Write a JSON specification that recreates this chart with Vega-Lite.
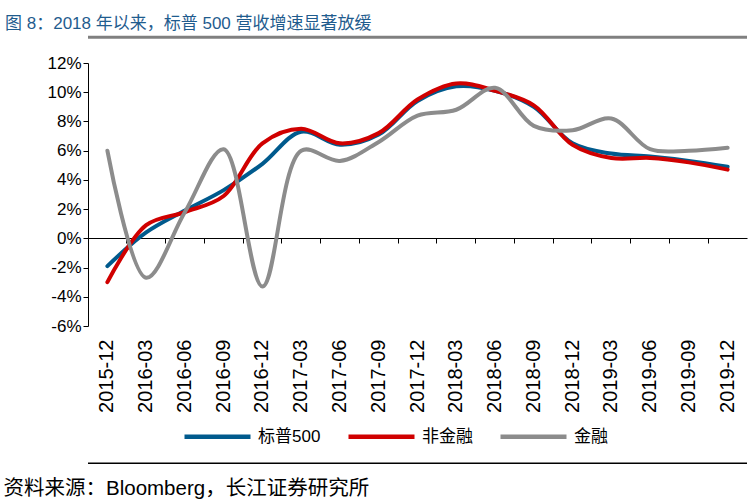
{
  "$schema": "https://vega.github.io/schema/vega-lite/v6.json",
  "width": 659,
  "height": 263,
  "autosize": {"type": "none"},
  "padding": {"left": 88, "top": 63, "right": 9, "bottom": 176},
  "background": "white",
  "config": {"view": {"stroke": null}},
  "title": {
    "text": "图 8：2018 年以来，标普 500 营收增速显著放缓",
    "anchor": "start",
    "frame": "group",
    "dx": -83,
    "dy": 23,
    "offset": 9,
    "baseline": "bottom",
    "fontSize": 17,
    "fontWeight": "normal",
    "font": "Liberation Sans, Noto Sans CJK SC",
    "color": "#1F5C8E"
  },
  "data": {
    "values": [
      {"date": "2015-12", "series": "标普500", "value": -1.9},
      {"date": "2016-03", "series": "标普500", "value": 0.4},
      {"date": "2016-06", "series": "标普500", "value": 1.9},
      {"date": "2016-09", "series": "标普500", "value": 3.3},
      {"date": "2016-12", "series": "标普500", "value": 5.1},
      {"date": "2017-03", "series": "标普500", "value": 7.3},
      {"date": "2017-06", "series": "标普500", "value": 6.4},
      {"date": "2017-09", "series": "标普500", "value": 7.1},
      {"date": "2017-12", "series": "标普500", "value": 9.4},
      {"date": "2018-03", "series": "标普500", "value": 10.4},
      {"date": "2018-06", "series": "标普500", "value": 10.1},
      {"date": "2018-09", "series": "标普500", "value": 9.0},
      {"date": "2018-12", "series": "标普500", "value": 6.5},
      {"date": "2019-03", "series": "标普500", "value": 5.8},
      {"date": "2019-06", "series": "标普500", "value": 5.6},
      {"date": "2019-09", "series": "标普500", "value": 5.3},
      {"date": "2019-12", "series": "标普500", "value": 4.9},
      {"date": "2015-12", "series": "非金融", "value": -3.0},
      {"date": "2016-03", "series": "非金融", "value": 0.9},
      {"date": "2016-06", "series": "非金融", "value": 1.8},
      {"date": "2016-09", "series": "非金融", "value": 2.9},
      {"date": "2016-12", "series": "非金融", "value": 6.5},
      {"date": "2017-03", "series": "非金融", "value": 7.5},
      {"date": "2017-06", "series": "非金融", "value": 6.5},
      {"date": "2017-09", "series": "非金融", "value": 7.2},
      {"date": "2017-12", "series": "非金融", "value": 9.5},
      {"date": "2018-03", "series": "非金融", "value": 10.6},
      {"date": "2018-06", "series": "非金融", "value": 10.1},
      {"date": "2018-09", "series": "非金融", "value": 9.1},
      {"date": "2018-12", "series": "非金融", "value": 6.4},
      {"date": "2019-03", "series": "非金融", "value": 5.5},
      {"date": "2019-06", "series": "非金融", "value": 5.5},
      {"date": "2019-09", "series": "非金融", "value": 5.2},
      {"date": "2019-12", "series": "非金融", "value": 4.7},
      {"date": "2015-12", "series": "金融", "value": 6.0},
      {"date": "2016-03", "series": "金融", "value": -2.7},
      {"date": "2016-06", "series": "金融", "value": 1.8},
      {"date": "2016-09", "series": "金融", "value": 6.1},
      {"date": "2016-12", "series": "金融", "value": -3.3},
      {"date": "2017-03", "series": "金融", "value": 6.0},
      {"date": "2017-06", "series": "金融", "value": 5.3},
      {"date": "2017-09", "series": "金融", "value": 6.6},
      {"date": "2017-12", "series": "金融", "value": 8.4},
      {"date": "2018-03", "series": "金融", "value": 8.8},
      {"date": "2018-06", "series": "金融", "value": 10.3},
      {"date": "2018-09", "series": "金融", "value": 7.7},
      {"date": "2018-12", "series": "金融", "value": 7.4},
      {"date": "2019-03", "series": "金融", "value": 8.2},
      {"date": "2019-06", "series": "金融", "value": 6.1},
      {"date": "2019-09", "series": "金融", "value": 6.0},
      {"date": "2019-12", "series": "金融", "value": 6.2}
    ]
  },
  "layer": [
    {
      "mark": {"type": "line", "interpolate": "catmull-rom", "strokeWidth": 4, "strokeCap": "round"},
      "encoding": {
        "x": {
          "field": "date",
          "type": "ordinal",
          "scale": {"type": "band", "paddingInner": 0, "paddingOuter": 0},
          "axis": {
            "orient": "bottom",
            "offset": -88,
            "domainColor": "#000000",
            "domainWidth": 1,
            "tickColor": "#000000",
            "tickSize": 5,
            "tickWidth": 1,
            "bandPosition": 0,
            "labelOffset": 0,
            "labelAngle": 270,
            "labelAlign": "right",
            "labelBaseline": "middle",
            "labelPadding": 96,
            "labelFontSize": 20,
            "labelFont": "Liberation Sans",
            "labelColor": "#000000",
            "grid": false,
            "title": "资料来源：Bloomberg，长江证券研究所",
            "titleX": -85,
            "titleY": 256,
            "titleAlign": "left",
            "titleAnchor": "start",
            "titleBaseline": "alphabetic",
            "titleAngle": 0,
            "titleFontSize": 20.5,
            "titleFontWeight": "normal",
            "titleFont": "Liberation Sans, Noto Sans CJK SC",
            "titleColor": "#000000"
          }
        },
        "y": {
          "field": "value",
          "type": "quantitative",
          "title": null,
          "scale": {"domain": [-6, 12], "nice": false, "zero": false},
          "axis": {
            "values": [-6, -4, -2, 0, 2, 4, 6, 8, 10, 12],
            "labelExpr": "datum.value + '%'",
            "labelOverlap": false,
            "domainColor": "#000000",
            "domainWidth": 1,
            "tickColor": "#000000",
            "tickSize": 5,
            "labelFontSize": 17,
            "labelFont": "Liberation Sans",
            "labelColor": "#000000",
            "labelPadding": 2,
            "grid": false,
            "title": null
          }
        },
        "color": {
          "field": "series",
          "type": "nominal",
          "scale": {"domain": ["标普500", "非金融", "金融"], "range": ["#005A8D", "#D00000", "#8C8C8C"]},
          "legend": {
            "title": null,
            "orient": "none",
            "direction": "horizontal",
            "legendX": 94,
            "legendY": 338,
            "padding": 0,
            "symbolType": "stroke",
            "symbolSize": 4356,
            "symbolStrokeWidth": 4.5,
            "labelFontSize": 17,
            "labelFont": "Liberation Sans, Noto Sans CJK SC",
            "labelColor": "#000000",
            "labelOffset": 5,
            "columnPadding": 18
          }
        },
        "order": {"field": "series"}
      }
    },
    {
      "data": {"values": [{"value": 13.76}]},
      "mark": {"type": "rule", "color": "#808080", "strokeWidth": 3},
      "encoding": {
        "y": {
          "field": "value",
          "type": "quantitative",
          "title": null,
          "axis": {
            "values": [-6, -4, -2, 0, 2, 4, 6, 8, 10, 12],
            "labelExpr": "datum.value + '%'",
            "labelOverlap": false,
            "domainColor": "#000000",
            "domainWidth": 1,
            "tickColor": "#000000",
            "tickSize": 5,
            "labelFontSize": 17,
            "labelFont": "Liberation Sans",
            "labelColor": "#000000",
            "labelPadding": 2,
            "grid": false,
            "title": null
          }
        }
      }
    },
    {
      "data": {"values": [{"value": -15.4}]},
      "mark": {"type": "rule", "color": "#000000", "strokeWidth": 1.5},
      "encoding": {
        "y": {
          "field": "value",
          "type": "quantitative",
          "title": null,
          "axis": {
            "values": [-6, -4, -2, 0, 2, 4, 6, 8, 10, 12],
            "labelExpr": "datum.value + '%'",
            "labelOverlap": false,
            "domainColor": "#000000",
            "domainWidth": 1,
            "tickColor": "#000000",
            "tickSize": 5,
            "labelFontSize": 17,
            "labelFont": "Liberation Sans",
            "labelColor": "#000000",
            "labelPadding": 2,
            "grid": false,
            "title": null
          }
        }
      }
    }
  ]
}
